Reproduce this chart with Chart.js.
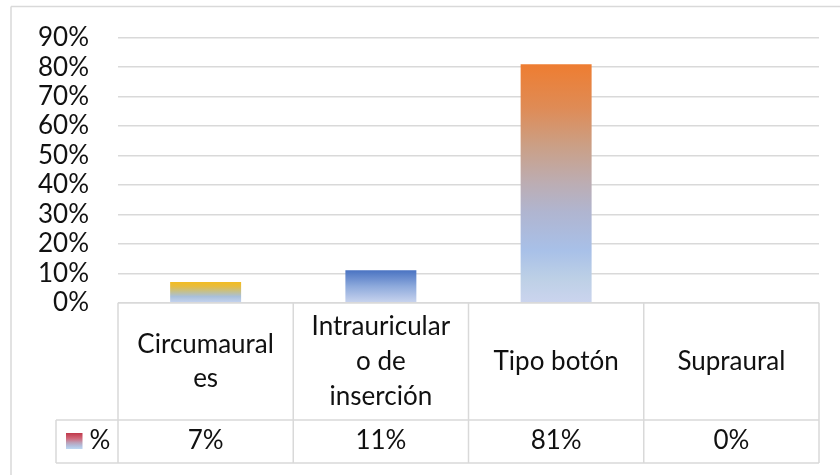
<!DOCTYPE html>
<html>
<head>
<meta charset="utf-8">
<script src="https://cdn.jsdelivr.net/npm/chart.js@4"></script>
<style>
  html, body { margin: 0; padding: 0; background: #fff; }
  canvas { display: block; }
</style>
</head>
<body>
<canvas id="chart" width="840" height="475"></canvas>
<script>
// datos
const categories = [['Circumaural', 'es'], ['Intrauricular', 'o de', 'inserción'], ['Tipo botón'], ['Supraural']];
const values = [0.07, 0.11, 0.81, 0];
const valueLabels = ['7%', '11%', '81%', '0%'];
const seriesName = '%';
const yMax = 0.9, yStep = 0.1;

// estilos
const FONT = 'Lato, "Open Sans", sans-serif';
const GRID = '#d9d9d9';
const barStops = [
  [[0, '#c6d4f0'], [0.3, '#a9c0da'], [0.55, '#c6c08a'], [0.8, '#e8bc3c'], [1, '#f2bc22']],
  [[0, '#c9d4ee'], [0.5, '#8eaadc'], [1, '#4a73c2']],
  [[0, '#cbd4ee'], [0.1, '#bdd0e6'], [0.22, '#a8c0e8'], [0.38, '#b0b5d0'], [0.5, '#bcadb3'], [0.65, '#caa088'], [0.82, '#df8b55'], [1, '#ee7d31']],
  [[0, '#ffffff'], [1, '#ffffff']]
];
const keyStops = [[0, '#c0384a'], [0.35, '#d06a7c'], [0.6, '#bca0b8'], [0.8, '#b3bedc'], [1, '#bcd8f2']];

const HEAD_TOP = 302.7, HEAD_BOT = 420, ROW_BOT = 463, KEY_LEFT = 56;

function barFill(ctx) {
  const chart = ctx.chart;
  if (!chart.chartArea || ctx.type !== 'data') return 'transparent';
  const y = chart.scales.y;
  const y0 = y.getPixelForValue(0), y1 = y.getPixelForValue(ctx.raw);
  if (Math.abs(y0 - y1) < 0.5) return 'transparent';
  const g = chart.ctx.createLinearGradient(0, y0, 0, y1);
  barStops[ctx.dataIndex].forEach(([o, c]) => g.addColorStop(o, c));
  return g;
}

// tabla de datos bajo el gráfico
const dataTable = {
  id: 'dataTable',
  afterDraw(chart) {
    const { ctx, chartArea } = chart;
    const x = chart.scales.x;
    const left = chartArea.left, right = chartArea.right;
    const w = (right - left) / categories.length;
    ctx.save();
    ctx.strokeStyle = GRID;
    ctx.lineWidth = 1.5;
    ctx.beginPath();
    // borde exterior
    ctx.moveTo(11, 6.5); ctx.lineTo(840, 6.5);
    ctx.moveTo(11, 6.5); ctx.lineTo(11, 475);
    // líneas horizontales
    ctx.moveTo(left, HEAD_TOP); ctx.lineTo(right, HEAD_TOP);
    ctx.moveTo(KEY_LEFT, HEAD_BOT); ctx.lineTo(right, HEAD_BOT);
    ctx.moveTo(KEY_LEFT, ROW_BOT); ctx.lineTo(right, ROW_BOT);
    // verticales
    for (let i = 0; i <= categories.length; i++) {
      const xx = left + i * w;
      ctx.moveTo(xx, HEAD_TOP); ctx.lineTo(xx, ROW_BOT);
    }
    ctx.moveTo(KEY_LEFT, HEAD_BOT); ctx.lineTo(KEY_LEFT, ROW_BOT);
    ctx.stroke();

    ctx.fillStyle = '#111';
    ctx.font = '26px ' + FONT;
    ctx.textAlign = 'center';
    ctx.textBaseline = 'alphabetic';
    const lh = 34.7, base = 370;
    categories.forEach((lines, i) => {
      const cx = x.getPixelForValue(i);
      lines.forEach((t, j) => {
        ctx.fillText(t, cx, base + (j - (lines.length - 1) / 2) * lh);
      });
      ctx.fillText(valueLabels[i], cx, 448.5);
    });

    // clave de leyenda
    const g = ctx.createLinearGradient(0, 433, 0, 449);
    keyStops.forEach(([o, c]) => g.addColorStop(o, c));
    ctx.fillStyle = g;
    ctx.fillRect(66, 433, 16.5, 16);
    ctx.fillStyle = '#111';
    ctx.textAlign = 'left';
    ctx.fillText(seriesName, 89.5, 448.5);
    ctx.restore();
  }
};

new Chart(document.getElementById('chart'), {
  type: 'bar',
  data: {
    labels: categories.map(c => c.join(' ')),
    datasets: [{
      label: seriesName,
      data: values,
      backgroundColor: barFill,
      barPercentage: 0.405,
      categoryPercentage: 1
    }]
  },
  options: {
    responsive: false,
    animation: false,
    devicePixelRatio: 1,
    layout: { padding: { left: 0, right: 21, top: 37.7, bottom: 475 - HEAD_TOP } },
    plugins: { legend: { display: false }, tooltip: { enabled: false } },
    scales: {
      x: { display: false },
      y: {
        min: 0, max: yMax,
        afterFit: s => { s.width = 118; s.paddingTop = 0; s.paddingBottom = 0; },
        border: { display: false },
        grid: { color: GRID, lineWidth: 1.5, drawTicks: false },
        ticks: {
          stepSize: yStep,
          autoSkip: false,
          padding: 29,
          color: '#111',
          font: { family: FONT, size: 26 },
          callback: v => Math.round(v * 100) + '%'
        }
      }
    }
  },
  plugins: [dataTable]
});
</script>
</body>
</html>
